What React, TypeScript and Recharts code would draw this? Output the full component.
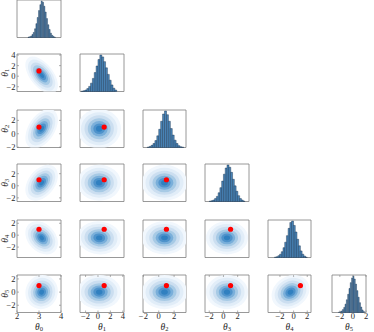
import React from 'react';
import { ComposedChart, Scatter, Bar, XAxis, YAxis, ReferenceArea } from 'recharts';

// posterior corner plot: 6 parameters, lower triangle

const paramSubs = ['0', '1', '2', '3', '4', '5'];
const truth = [3, 1, 1, 1, 1, 1];
const postMean = [3.12, 0.2, 0.75, 0.5, -0.45, 0.0];
const postSd = [0.2, 0.95, 0.8, 0.8, 0.75, 0.7];
const corr = [
  [1, -0.55, 0.45, 0.4, -0.3, 0.05],
  [-0.55, 1, 0, 0, -0.05, 0],
  [0.45, 0, 1, 0, 0, 0],
  [0.4, 0, 0, 1, 0, 0],
  [-0.3, -0.05, 0, 0, 1, 0.2],
  [0.05, 0, 0, 0, 0.2, 1],
];
const axisMin = [2, -2.9, -2.05, -2.6, -3.75, -3.1];
const axisMax = [4, 4.2, 3.55, 3.6, 2.55, 2.6];
const lastHistDomain = [-3.2, 2.0];
const tickValues = [
  [2, 3, 4],
  [-2, 0, 2, 4],
  [-2, 0, 2],
  [-2, 0, 2],
  [-2, 0, 2],
  [-2, 0, 2],
];
const histStart = [2.5, -2.7, -1.5, -2.0, -2.8, -2.2];
const histBin = [0.06, 0.3, 0.25, 0.25, 0.25, 0.2];
const histCounts = [
  [1, 2, 4, 8, 14, 24, 38, 55, 74, 90, 100, 97, 86, 70, 52, 35, 22, 12, 6, 3, 1],
  [1, 2, 4, 8, 14, 23, 36, 52, 70, 88, 100, 95, 82, 65, 47, 31, 18, 9, 4],
  [1, 3, 6, 11, 19, 32, 50, 72, 92, 100, 90, 72, 52, 34, 20, 11, 5, 2, 1],
  [1, 2, 4, 8, 14, 24, 38, 56, 75, 92, 100, 94, 80, 61, 43, 28, 16, 8, 4, 1],
  [1, 2, 5, 9, 16, 27, 42, 60, 80, 96, 100, 88, 70, 50, 32, 18, 9, 4, 1],
  [1, 2, 4, 8, 14, 23, 35, 50, 66, 82, 95, 100, 92, 78, 60, 42, 27, 15, 7, 3],
];
const densityLevels = [3.7, 3.1, 2.5, 1.95, 1.45, 1.0, 0.55];
const densityColors = ['#f1f7fd', '#e1edf8', '#cbdef0', '#a7cae5', '#7aafda', '#4f93cb', '#3080c0'];

// layout
const colX = [17, 80, 143, 205, 268, 332];
const colW = [44, 44, 43, 44, 43, 34];
const rowY = [0, 54, 109.5, 164, 219.5, 275];
const rowH = 37.5;
const yAxisW = 17;
const xAxisH = 18;
const pad = 5;

const BORDER = '#7f7f7f';
const TXT = '#262626';
const FONT = '"Liberation Serif", "Times New Roman", serif';

const fmt = (v: number) => (v < 0 ? '\u2212' + Math.abs(v) : String(v));

function ThetaText({ x, y, sub, rotate }: { x: number; y: number; sub: string; rotate?: boolean }) {
  return (
    <text
      x={x}
      y={y}
      textAnchor="middle"
      fontFamily={FONT}
      fontStyle="italic"
      fontSize={9.5}
      fill={TXT}
      transform={rotate ? `rotate(-90, ${x}, ${y})` : undefined}
    >
      θ
      <tspan fontSize={6.5} dy={1.3} fontStyle="normal">
        {sub}
      </tspan>
    </text>
  );
}

function makeXTick(showLabel: boolean, h: number) {
  return (p: any) => (
    <g>
      <line x1={p.x} x2={p.x} y1={p.y} y2={p.y - 2} stroke={BORDER} strokeWidth={0.6} />
      <line x1={p.x} x2={p.x} y1={p.y - h} y2={p.y - h + 2} stroke={BORDER} strokeWidth={0.6} />
      {showLabel && (
        <text x={p.x} y={p.y + 6.8} textAnchor="middle" fontFamily={FONT} fontSize={8.5} fill={TXT}>
          {fmt(p.payload.value)}
        </text>
      )}
    </g>
  );
}

function makeYTick(showLabel: boolean, w: number) {
  return (p: any) => (
    <g>
      <line x1={p.x} x2={p.x + 2} y1={p.y} y2={p.y} stroke={BORDER} strokeWidth={0.6} />
      <line x1={p.x + w} x2={p.x + w - 2} y1={p.y} y2={p.y} stroke={BORDER} strokeWidth={0.6} />
      {showLabel && (
        <text x={p.x - 1.5} y={p.y + 3} textAnchor="end" fontFamily={FONT} fontSize={8.5} fill={TXT}>
          {fmt(p.payload.value)}
        </text>
      )}
    </g>
  );
}

function Panel({ r, c }: { r: number; c: number }) {
  const isDiag = r === c;
  const L = c === 0 && r > 0 ? yAxisW : 0;
  const B = r === 5 ? xAxisH : 0;
  const w = colW[c];
  const h = rowH;
  const xDom = isDiag && c === 5 ? lastHistDomain : [axisMin[c], axisMax[c]];
  const yDom = isDiag ? [0, 103] : [axisMin[r], axisMax[r]];
  const kx = w / (xDom[1] - xDom[0]);
  const ky = h / (yDom[1] - yDom[0]);
  const clipId = `clip-${r}-${c}`;
  const plotX = pad + L;
  const plotY = pad;
  const chartW = w + 2 * pad + L;
  const chartH = h + 2 * pad + B;
  const margin = { top: pad, right: pad, bottom: pad, left: pad };

  const style: React.CSSProperties = {
    position: 'absolute',
    left: colX[c] - pad - L,
    top: rowY[r] - pad,
  };

  const xAxis = (
    <XAxis
      type="number"
      dataKey="x"
      domain={xDom}
      ticks={tickValues[c]}
      allowDataOverflow
      interval={0}
      height={B}
      axisLine={false}
      tickLine={false}
      tickSize={0}
      tickMargin={0}
      tick={makeXTick(r === 5, h)}
      label={
        r === 5
          ? () => <ThetaText x={plotX + w / 2} y={plotY + h + B - 0.8} sub={paramSubs[c]} />
          : undefined
      }
    />
  );

  if (isDiag) {
    const data = histCounts[c].map((n, i) => ({ x: histStart[c] + (i + 0.5) * histBin[c], n }));
    return (
      <div style={style}>
        <ComposedChart width={chartW} height={chartH} data={data} margin={margin} barCategoryGap={0} barGap={0}>
          {xAxis}
          <YAxis type="number" domain={yDom} hide />
          <Bar dataKey="n" fill="#4a86ba" stroke="#1c3650" strokeWidth={0.45} isAnimationActive={false} />
          <ReferenceArea x1={xDom[0]} x2={xDom[1]} y1={yDom[0]} y2={yDom[1]} fill="none" stroke={BORDER} strokeWidth={0.8} ifOverflow="visible" />
        </ComposedChart>
      </div>
    );
  }

  // 2d posterior density, drawn as nested covariance ellipses
  const sx = postSd[c];
  const sy = postSd[r];
  const rho = corr[r][c];
  const a = sx * kx;
  const b = sy * ky;
  const cxy = -rho * a * b;
  const mid = (a * a + b * b) / 2;
  const diff = Math.sqrt(((a * a - b * b) / 2) ** 2 + cxy * cxy);
  const l1 = Math.sqrt(mid + diff);
  const l2 = Math.sqrt(Math.max(mid - diff, 0.01));
  const angle = (0.5 * Math.atan2(2 * cxy, a * a - b * b) * 180) / Math.PI;

  const densityShape = (p: any) => (
    <g clipPath={`url(#${clipId})`}>
      {densityLevels.map((k, i) => (
        <ellipse
          key={i}
          cx={p.cx}
          cy={p.cy}
          rx={k * l1}
          ry={k * l2}
          fill={densityColors[i]}
          transform={`rotate(${angle}, ${p.cx}, ${p.cy})`}
        />
      ))}
    </g>
  );

  return (
    <div style={style}>
      <ComposedChart width={chartW} height={chartH} margin={margin}>
        <defs>
          <clipPath id={clipId}>
            <rect x={plotX} y={plotY} width={w} height={h} />
          </clipPath>
        </defs>
        {xAxis}
        <YAxis
          type="number"
          dataKey="y"
          domain={yDom}
          ticks={tickValues[r]}
          allowDataOverflow
          interval={0}
          width={L}
          axisLine={false}
          tickLine={false}
          tickSize={0}
          tickMargin={0}
          tick={makeYTick(c === 0, w)}
          label={
            c === 0
              ? () => <ThetaText x={pad + 8} y={plotY + h / 2} sub={paramSubs[r]} rotate />
              : undefined
          }
        />
        <Scatter data={[{ x: postMean[c], y: postMean[r] }]} shape={densityShape} isAnimationActive={false} />
        <Scatter
          data={[{ x: truth[c], y: truth[r] }]}
          shape={(p: any) => <circle cx={p.cx} cy={p.cy} r={2.6} fill="#ff0000" />}
          isAnimationActive={false}
        />
        <ReferenceArea x1={xDom[0]} x2={xDom[1]} y1={yDom[0]} y2={yDom[1]} fill="none" stroke={BORDER} strokeWidth={0.8} ifOverflow="visible" />
      </ComposedChart>
    </div>
  );
}

export default function App() {
  const cells: React.ReactNode[] = [];
  for (let r = 0; r < 6; r++) {
    for (let c = 0; c <= r; c++) {
      cells.push(<Panel key={`${r}-${c}`} r={r} c={c} />);
    }
  }
  return (
    <div style={{ position: 'absolute', left: 0, top: 0, width: 374, height: 332, background: '#fff', overflow: 'hidden' }}>
      {cells}
    </div>
  );
}
